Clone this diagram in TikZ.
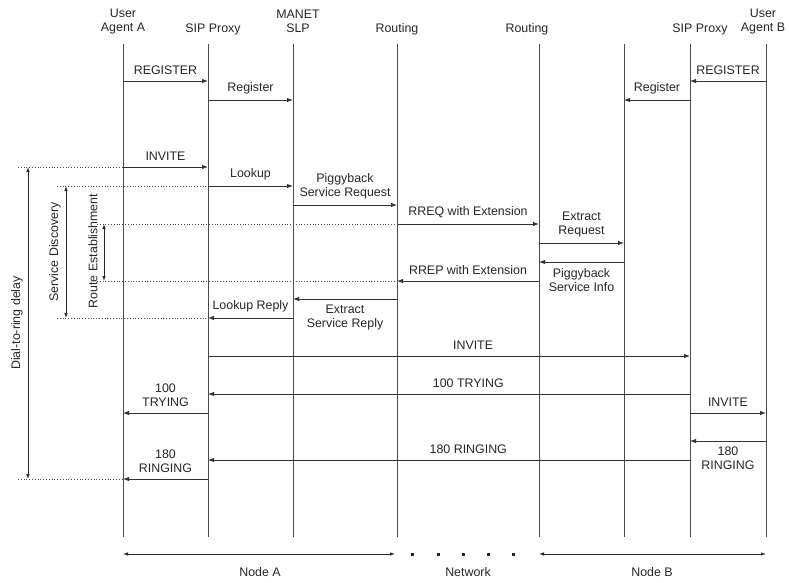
\documentclass[tikz,border=0pt]{standalone}
\usepackage{fontspec}
\setmainfont{Liberation Sans}
\usetikzlibrary{arrows.meta,positioning}

\begin{document}
\begin{tikzpicture}[x=1pt,y=-1pt,align=center,font=\fontsize{12.4}{14}\selectfont,text=black!85]
\tikzstyle{lifeline}=[draw=black!70,line width=0.9pt]
\tikzstyle{msg}=[-{Latex[length=6pt,width=4.5pt]},draw=black!80,line width=0.9pt]
\tikzstyle{interval}=[{Latex[length=5pt,width=3.5pt]}-{Latex[length=5pt,width=3.5pt]},draw=black!85,line width=0.8pt]
\tikzstyle{guide}=[dotted,draw=black!70,line width=0.8pt]
\tikzstyle{netdot}=[fill=black!85,minimum size=3pt,inner sep=0pt]
\tikzstyle{msgabove}=[above=2.5pt]
\tikzstyle{msgbelow}=[below=2.5pt]

\useasboundingbox (0,0) rectangle (789,583);

% headers
\node (uaAhead) at (123,22) {User\\Agent A};
\node (pxAhead) at (213,29) {SIP Proxy};
\node (slpAhead) at (298,21) {MANET\\SLP};
\node (rtAhead) at (397,29) {Routing};
\node (rtBhead) at (527,29) {Routing};
\node (pxBhead) at (700,29) {SIP Proxy};
\node (uaBhead) at (763,22) {User\\Agent B};

% lifelines
\coordinate (uaA) at (123,44);
\coordinate (pxA) at (208,44);
\coordinate (slpA) at (293,44);
\coordinate (rtA) at (397,44);
\coordinate (rtB) at (539,44);
\coordinate (slpB) at (624,44);
\coordinate (pxB) at (690,44);
\coordinate (uaB) at (766,44);
\coordinate (bottom) at (0,537);

\draw[lifeline] (uaA) -- (uaA |- bottom);
\draw[lifeline] (pxA) -- (pxA |- bottom);
\draw[lifeline] (slpA) -- (slpA |- bottom);
\draw[lifeline] (rtA) -- (rtA |- bottom);
\draw[lifeline] (rtB) -- (rtB |- bottom);
\draw[lifeline] (slpB) -- (slpB |- bottom);
\draw[lifeline] (pxB) -- (pxB |- bottom);
\draw[lifeline] (uaB) -- (uaB |- bottom);

% message rows
\coordinate (m1) at (0,81);
\coordinate (m2) at (0,100);
\coordinate (m3) at (0,167);
\coordinate (m4) at (0,186);
\coordinate (m5) at (0,205);
\coordinate (m6) at (0,224);
\coordinate (m7) at (0,243);
\coordinate (m8) at (0,262);
\coordinate (m9) at (0,281);
\coordinate (m10) at (0,299);
\coordinate (m11) at (0,318);
\coordinate (m12) at (0,356);
\coordinate (m13) at (0,394);
\coordinate (m14) at (0,413);
\coordinate (m15) at (0,441);
\coordinate (m16) at (0,460);
\coordinate (m17) at (0,479);

% registration
\path
  (uaA |- m1) edge [msg] node[msgabove] (regA) {REGISTER} (pxA |- m1)
  (pxA |- m2) edge [msg] node[msgabove] (regSlpA) {Register} (slpA |- m2)
  (uaB |- m1) edge [msg] node[msgabove] (regB) {REGISTER} (pxB |- m1)
  (pxB |- m2) edge [msg] node[msgabove] (regSlpB) {Register} (slpB |- m2);

% service discovery
\path
  (uaA |- m3) edge [msg] node[msgabove] (invA) {INVITE} (pxA |- m3)
  (pxA |- m4) edge [msg] node[msgabove] (lookup) {Lookup} (slpA |- m4)
  (slpA |- m5) edge [msg] node[msgabove] (pigReq) {Piggyback\\Service Request} (rtA |- m5)
  (rtA |- m6) edge [msg] node[msgabove] (rreq) {RREQ with Extension} (rtB |- m6)
  (rtB |- m7) edge [msg] node[msgabove] (extReq) {Extract\\Request} (slpB |- m7)
  (slpB |- m8) edge [msg] node[msgbelow] (pigInfo) {Piggyback\\Service Info} (rtB |- m8)
  (rtB |- m9) edge [msg] node[msgabove] (rrep) {RREP with Extension} (rtA |- m9)
  (rtA |- m10) edge [msg] node[msgbelow] (extRep) {Extract\\Service Reply} (slpA |- m10)
  (slpA |- m11) edge [msg] node[msgabove] (lookRep) {Lookup Reply} (pxA |- m11);

% call setup
\path
  (pxA |- m12) edge [msg] node[msgabove, pos=0.55] (invLong) {INVITE} (pxB |- m12)
  (pxB |- m13) edge [msg] node[msgabove, pos=0.46] (tryLong) {100 TRYING} (pxA |- m13)
  (pxA |- m14) edge [msg] node[msgabove] (tryA) {100\\TRYING} (uaA |- m14)
  (pxB |- m14) edge [msg] node[msgabove] (invB) {INVITE} (uaB |- m14)
  (uaB |- m15) edge [msg] node[msgbelow] (ringB) {180\\RINGING} (pxB |- m15)
  (pxB |- m16) edge [msg] node[msgabove, pos=0.46] (ringLong) {180 RINGING} (pxA |- m16)
  (pxA |- m17) edge [msg] node[msgabove] (ringA) {180\\RINGING} (uaA |- m17);

% delay markers
\coordinate (dialTop) at (18,167);
\coordinate (dialBot) at (18,479);
\coordinate (discTop) at (57,186);
\coordinate (discBot) at (57,318);
\coordinate (routeTop) at (97,224);
\coordinate (routeBot) at (97,281);

\draw[guide] (dialTop) -- (uaA |- dialTop);
\draw[guide] (dialBot) -- (uaA |- dialBot);
\draw[guide] (discTop) -- (pxA |- discTop);
\draw[guide] (discBot) -- (pxA |- discBot);
\draw[guide] (routeTop) -- (rtA |- routeTop);
\draw[guide] (routeBot) -- (rtA |- routeBot);

\coordinate (dialArr) at (28,167);
\coordinate (discArr) at (66,186);
\coordinate (routeArr) at (104,224);
\draw[interval] (dialArr) -- (dialArr |- dialBot);
\draw[interval] (discArr) -- (discArr |- discBot);
\draw[interval] (routeArr) -- (routeArr |- routeBot);

\node[rotate=90] (dialLbl) at (17,323) {Dial-to-ring delay};
\node[rotate=90] (discLbl) at (55,252) {Service Discovery};
\node[rotate=90] (routeLbl) at (93,251) {Route Establishment};

% node extents
\coordinate (bar) at (0,554);
\draw[interval] (uaA |- bar) -- (395,554);
\draw[interval] (rtB |- bar) -- (uaB |- bar);
\node[netdot] (dot1) at (412,554) {};
\node[netdot] (dot2) at (438,554) {};
\node[netdot] (dot3) at (463,554) {};
\node[netdot] (dot4) at (488,554) {};
\node[netdot] (dot5) at (513,554) {};

\node (nodeAlbl) at (260,572) {Node A};
\node (netLbl) at (468,572) {Network};
\node (nodeBlbl) at (652,572) {Node B};
\end{tikzpicture}
\end{document}
